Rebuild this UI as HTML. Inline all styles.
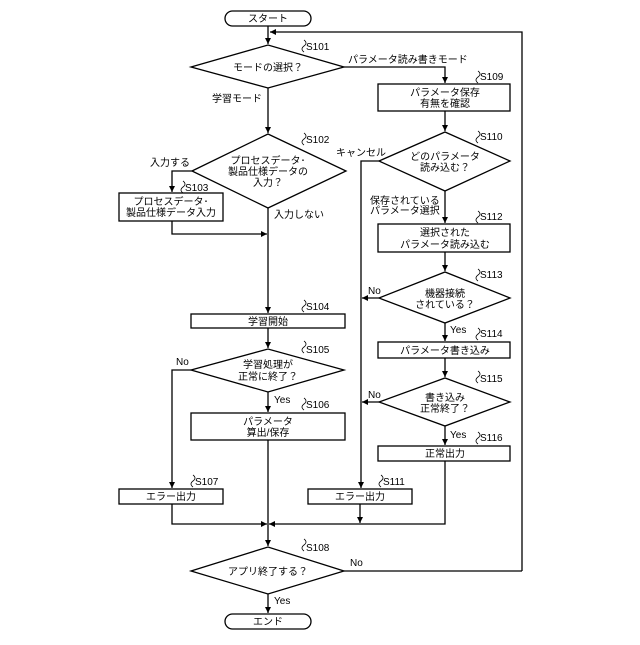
<!DOCTYPE html>
<html><head><meta charset="utf-8"><style>
body{margin:0;background:#fff}
svg text{font-family:"Liberation Sans","Noto Sans CJK JP",sans-serif;font-size:10px;fill:#000}
</style></head><body>
<svg width="640" height="640" viewBox="0 0 640 640" xmlns="http://www.w3.org/2000/svg">
<defs><marker id="a" markerWidth="8" markerHeight="8" refX="6" refY="3" orient="auto" markerUnits="userSpaceOnUse"><path d="M0,0 L6,3 L0,6 z" fill="#000"/></marker></defs>
<g fill="#fff" stroke="#000" stroke-width="1.3">
<rect x="225" y="11" width="86" height="15" rx="7.5"/>
<rect x="225" y="614" width="86" height="15" rx="7.5"/>
<polygon points="191,67 268,45 344,67 268,88"/>
<polygon points="192,171 268,134 346,171 268,208"/>
<rect x="119" y="193" width="104" height="28"/>
<rect x="191" y="314" width="154" height="14"/>
<polygon points="191,370 268,349 344,370 268,392"/>
<rect x="191" y="413" width="154" height="27"/>
<rect x="119" y="489" width="104" height="15"/>
<rect x="308" y="489" width="104" height="15"/>
<polygon points="191,571 268,547 344,571 268,594"/>
<rect x="378" y="84" width="132" height="27"/>
<polygon points="379,161 445,132 510,161 445,191"/>
<rect x="378" y="224" width="132" height="28"/>
<polygon points="379,298 445,272 510,298 445,323"/>
<rect x="378" y="342" width="132" height="16"/>
<polygon points="379,402 445,378 510,402 445,426"/>
<rect x="378" y="446" width="132" height="15"/>
</g>
<g fill="none" stroke="#000" stroke-width="1.3">
<path d="M268,26 V44" marker-end="url(#a)"/>
<path d="M522,571 H344 M522,571 V32 H270" marker-end="url(#a)"/>
<path d="M268,88 V133" marker-end="url(#a)"/>
<path d="M192,171 H172 V192" marker-end="url(#a)"/>
<path d="M172,221 V234 H267" marker-end="url(#a)"/>
<path d="M268,208 V313" marker-end="url(#a)"/>
<path d="M268,328 V348" marker-end="url(#a)"/>
<path d="M191,370 H172 V488" marker-end="url(#a)"/>
<path d="M268,392 V412" marker-end="url(#a)"/>
<path d="M268,440 V546" marker-end="url(#a)"/>
<path d="M172,504 V524 H267" marker-end="url(#a)"/>
<path d="M445,461 V524 H269" marker-end="url(#a)"/>
<path d="M360,504 V523" marker-end="url(#a)"/>
<path d="M268,594 V613" marker-end="url(#a)"/>
<path d="M344,67 H445 V83" marker-end="url(#a)"/>
<path d="M445,111 V131" marker-end="url(#a)"/>
<path d="M379,161 H361 V488" marker-end="url(#a)"/>
<path d="M445,191 V223" marker-end="url(#a)"/>
<path d="M445,252 V271" marker-end="url(#a)"/>
<path d="M379,298 H362" marker-end="url(#a)"/>
<path d="M445,323 V341" marker-end="url(#a)"/>
<path d="M445,358 V377" marker-end="url(#a)"/>
<path d="M379,402 H362" marker-end="url(#a)"/>
<path d="M445,426 V445" marker-end="url(#a)"/>
</g>
<g stroke="#000" fill="none" stroke-width="0.8">
<path d="M304,52 q-4,-3 0,-6 q4,-3 0,-6"/><path d="M304,145 q-4,-3 0,-6 q4,-3 0,-6"/>
<path d="M183,193 q-4,-3 0,-6 q4,-3 0,-6"/><path d="M304,312 q-4,-3 0,-6 q4,-3 0,-6"/>
<path d="M304,353 q-4,-3 0,-6 q4,-3 0,-6"/><path d="M304,410 q-4,-3 0,-6 q4,-3 0,-6"/>
<path d="M193,487 q-4,-3 0,-6 q4,-3 0,-6"/><path d="M381,487 q-4,-3 0,-6 q4,-3 0,-6"/>
<path d="M304,551 q-4,-3 0,-6 q4,-3 0,-6"/><path d="M478,83 q-4,-3 0,-6 q4,-3 0,-6"/>
<path d="M478,143 q-4,-3 0,-6 q4,-3 0,-6"/><path d="M478,223 q-4,-3 0,-6 q4,-3 0,-6"/>
<path d="M478,281 q-4,-3 0,-6 q4,-3 0,-6"/><path d="M478,340 q-4,-3 0,-6 q4,-3 0,-6"/>
<path d="M478,383 q-4,-3 0,-6 q4,-3 0,-6"/><path d="M478,444 q-4,-3 0,-6 q4,-3 0,-6"/>
</g>
<g text-anchor="middle">
<text x="268" y="22">スタート</text>
<text x="268" y="625">エンド</text>
<text x="268" y="71">モードの選択？</text>
<text x="268" y="164">プロセスデータ･</text><text x="268" y="175">製品仕様データの</text><text x="268" y="186">入力？</text>
<text x="171" y="205">プロセスデータ･</text><text x="171" y="216">製品仕様データ入力</text>
<text x="268" y="325">学習開始</text>
<text x="268" y="368">学習処理が</text><text x="268" y="380">正常に終了？</text>
<text x="268" y="425">パラメータ</text><text x="268" y="436">算出/保存</text>
<text x="171" y="500">エラー出力</text>
<text x="360" y="500">エラー出力</text>
<text x="268" y="575">アプリ終了する？</text>
<text x="445" y="96">パラメータ保存</text><text x="445" y="107">有無を確認</text>
<text x="445" y="160">どのパラメータ</text><text x="445" y="171">読み込む？</text>
<text x="445" y="236">選択された</text><text x="445" y="248">パラメータ読み込む</text>
<text x="445" y="297">機器接続</text><text x="445" y="308">されている？</text>
<text x="445" y="354">パラメータ書き込み</text>
<text x="445" y="401">書き込み</text><text x="445" y="412">正常終了？</text>
<text x="445" y="457">正常出力</text>
</g>
<g>
<text x="348" y="63">パラメータ読み書きモード</text>
<text x="212" y="102">学習モード</text>
<text x="150" y="166">入力する</text>
<text x="274" y="218">入力しない</text>
<text x="336" y="156">キャンセル</text>
<text x="370" y="204">保存されている</text><text x="370" y="214">パラメータ選択</text>
<text x="368" y="294">No</text>
<text x="450" y="333">Yes</text>
<text x="368" y="398">No</text>
<text x="450" y="438">Yes</text>
<text x="176" y="365">No</text>
<text x="274" y="403">Yes</text>
<text x="350" y="566">No</text>
<text x="274" y="604">Yes</text>
<text x="306" y="50">S101</text><text x="306" y="143">S102</text><text x="185" y="191">S103</text>
<text x="306" y="310">S104</text><text x="306" y="353">S105</text><text x="306" y="408">S106</text>
<text x="195" y="485">S107</text><text x="306" y="551">S108</text><text x="480" y="80">S109</text>
<text x="480" y="140">S110</text><text x="383" y="485">S111</text><text x="480" y="220">S112</text>
<text x="480" y="278">S113</text><text x="480" y="337">S114</text><text x="480" y="382">S115</text>
<text x="480" y="441">S116</text>
</g>
</svg>
</body></html>
